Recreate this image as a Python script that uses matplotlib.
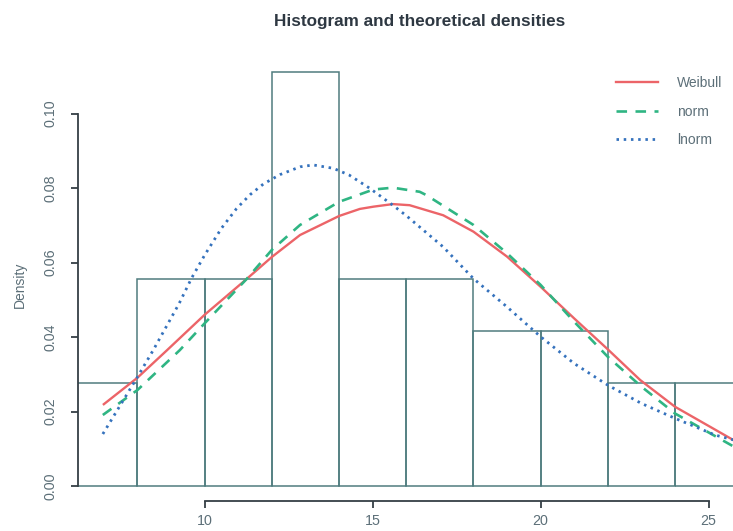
import matplotlib
matplotlib.use("Agg")
import matplotlib.pyplot as plt

plt.rcParams["font.family"] = ["Liberation Sans", "DejaVu Sans"]

# histogram (density scale), bins of width 2
bin_edges = [6, 8, 10, 12, 14, 16, 18, 20, 22, 24, 26]
bin_density = [0.0278, 0.0556, 0.0556, 0.1111, 0.0556, 0.0556, 0.0417, 0.0417, 0.0278, 0.0278]

# fitted densities
weibull_x = [7.0, 8.0, 8.87, 10.0, 11.25, 12.0, 12.84, 14.0, 14.62, 15.02, 15.6, 16.1, 17.1,
             18.0, 19.0, 20.0, 21.0, 22.0, 22.96, 24.0, 25.75, 26.0]
weibull_y = [0.0220, 0.0291, 0.0364, 0.0460, 0.0556, 0.0615, 0.0674, 0.0725, 0.0744, 0.0750,
             0.0757, 0.0754, 0.0727, 0.0683, 0.0616, 0.0535, 0.0450, 0.0367, 0.0285, 0.0213,
             0.0123, 0.0112]

norm_x = [6.97, 8.0, 9.26, 10.0, 11.25, 12.0, 12.84, 14.0, 15.02, 15.6, 16.4, 16.6, 18.0,
          19.0, 20.0, 21.0, 22.0, 23.0, 24.0, 25.75, 26.0]
norm_y = [0.0191, 0.0258, 0.0365, 0.0437, 0.0556, 0.0634, 0.0701, 0.0763, 0.0796, 0.0801,
          0.0790, 0.0781, 0.0701, 0.0625, 0.0540, 0.0441, 0.0347, 0.0267, 0.0195, 0.0106,
          0.0095]

lnorm_x = [6.97, 8.0, 8.47, 9.24, 9.61, 10.0, 10.5, 10.95, 11.35, 11.75, 12.24, 12.84, 13.23,
           13.83, 14.3, 14.92, 15.6, 16.0, 17.1, 18.0, 19.0, 20.0, 21.0, 22.0, 23.0, 24.0,
           25.2, 25.75, 26.0]
lnorm_y = [0.0140, 0.0293, 0.0365, 0.0490, 0.0558, 0.0620, 0.0692, 0.0745, 0.0782, 0.0811,
           0.0836, 0.0857, 0.0862, 0.0853, 0.0835, 0.0799, 0.0754, 0.0726, 0.0642, 0.0557,
           0.0481, 0.0401, 0.0329, 0.0271, 0.0222, 0.0182, 0.0137, 0.0124, 0.0117]

x_ticks = [10, 15, 20, 25]
y_ticks = [0.00, 0.02, 0.04, 0.06, 0.08, 0.10]

W, H = 733, 531
fig = plt.figure(figsize=(W / 100, H / 100), dpi=100)
fig.patch.set_facecolor("white")

# plot region runs off the right edge, like the scanned page
left_px, right_px, bottom_px, top_px = 78.3, 767.8, 500.7, 39.0
ax = fig.add_axes([left_px / W, 1 - bottom_px / H,
                   (right_px - left_px) / W, (bottom_px - top_px) / H])
ax.set_xlim(6.24, 26.76)
ax.set_ylim(-0.0039, 0.12)
ax.patch.set_alpha(0)

edge_col = "#4f7c7e"
widths = [b - a for a, b in zip(bin_edges[:-1], bin_edges[1:])]
ax.bar(bin_edges[:-1], bin_density, width=widths, align="edge",
       facecolor="none", edgecolor=edge_col, linewidth=1.1)

ax.plot(weibull_x, weibull_y, color="#ec6468", lw=1.7, label="Weibull")
ax.plot(norm_x, norm_y, color="#2fb583", lw=1.9, dashes=(4, 3.2), label="norm")
ax.plot(lnorm_x, lnorm_y, color="#3572bd", lw=2.0, dashes=(0.9, 1.7), label="lnorm")

axis_col = "#353f45"
text_col = "#5c6f78"
for s in ["top", "right"]:
    ax.spines[s].set_visible(False)
ax.spines["left"].set_bounds(0.0, 0.10)
ax.spines["bottom"].set_bounds(10, 25)
for s in ["left", "bottom"]:
    ax.spines[s].set_color(axis_col)
    ax.spines[s].set_linewidth(1.3)

ax.set_xticks(x_ticks)
ax.set_xticklabels([str(t) for t in x_ticks])
ax.set_yticks(y_ticks)
ax.set_yticklabels([f"{t:.2f}" for t in y_ticks], rotation=90, va="center")
ax.tick_params(axis="both", direction="out", length=5.2, width=1.3, color=axis_col,
               labelcolor=text_col, labelsize=10.3)
ax.tick_params(axis="y", pad=10.0)
ax.tick_params(axis="x", pad=4.5)

fig.text(19.5 / W, 1 - 285 / H, "Density", rotation=90, ha="center", va="center",
         color=text_col, fontsize=10)
fig.text(420 / W, 1 - 21.7 / H, "Histogram and theoretical densities", ha="center",
         va="center", fontsize=12.3, fontweight="bold", color="#2e3842")

fig.legend(loc="upper left", bbox_to_anchor=(616 / W, 1 - 76 / H), frameon=False,
           fontsize=10, handlelength=3.0, handletextpad=1.4, labelspacing=1.05,
           borderpad=0, borderaxespad=0, labelcolor=text_col)

fig.savefig("out.png", dpi=100)
